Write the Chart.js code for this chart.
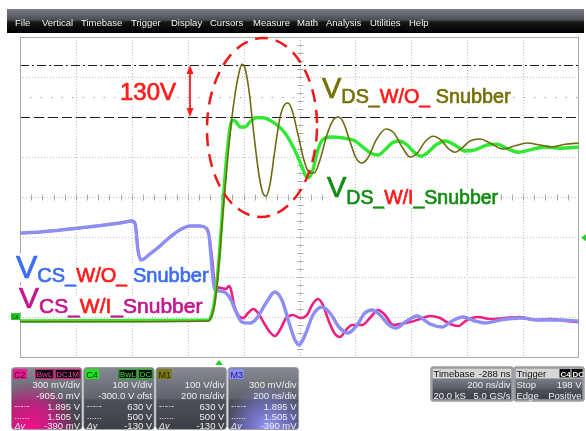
<!DOCTYPE html>
<html>
<head>
<meta charset="utf-8">
<script src="https://cdn.jsdelivr.net/npm/chart.js@4.4.1/dist/chart.umd.min.js"></script>
<style>
html, body { margin: 0; padding: 0; background: #fff; }
canvas { display: block; }
</style>
</head>
<body>
<canvas id="scope" width="586" height="431"></canvas>
<script>
// time in ns, trigger at 0 (200 ns/div, 10 div)
const timeMin = -712
const timeMax = 1288
// C4 / M1 : 100 V/div, -300 V ofst -> centre 300 V
const vdsMin = -100
const vdsMax = 700
// C2 / M3 : 300 mV/div, -905 mV -> centre 0.905 V
const vcsMin = -0.295
const vcsMax = 2.105

const cursorHigh = 630
const cursorLow = 500
const triggerLevel = 198

// M1 - VDS without snubber
const vdsWoT = [-712, -426, -39, -29, -18, -7, 4, 14, 29, 43, 57, 72, 82, 93, 107, 125, 143, 157, 168, 182, 200, 218, 236, 247, 261, 283, 304, 322, 340, 361, 386, 408, 426, 444, 469, 490, 512, 533, 562, 597, 626, 655, 684, 712, 737, 766, 795, 819, 844, 869, 898, 934, 970, 1016, 1059, 1102, 1148, 1191, 1238, 1288]
const vdsWoV = [-12, -12, -10, -2, 22, 80, 168, 262, 380, 480, 555, 612, 632, 622, 568, 455, 355, 310, 302, 330, 418, 498, 532, 535, 518, 455, 392, 362, 360, 392, 455, 492, 500, 488, 438, 398, 385, 398, 442, 470, 460, 425, 400, 412, 438, 452, 442, 422, 412, 422, 440, 445, 435, 420, 428, 435, 430, 425, 432, 435]

// C4 - VDS with snubber
const vdsWiT = [-712, -39, -29, -18, -7, 4, 14, 25, 36, 47, 61, 75, 93, 111, 132, 157, 182, 211, 236, 258, 279, 297, 311, 322, 336, 351, 369, 397, 440, 487, 519, 548, 569, 594, 619, 644, 673, 698, 723, 748, 776, 809, 844, 880, 916, 959, 994, 1034, 1070, 1113, 1166, 1220, 1288]
const vdsWiV = [-10, -8, 0, 30, 92, 180, 280, 380, 455, 492, 488, 475, 475, 488, 498, 498, 492, 478, 460, 435, 405, 375, 352, 348, 368, 412, 442, 450, 448, 440, 422, 408, 405, 418, 435, 440, 430, 412, 402, 412, 430, 440, 430, 415, 418, 430, 432, 420, 412, 418, 425, 422, 425]

// M3 - VCS without snubber
const vcsWoT = [-712, -640, -497, -354, -311, -300, -290, -279, -247, -211, -175, -140, -104, -68, -47, -36, -29, -21, -14, 4, 25, 43, 61, 82, 111, 136, 168, 200, 225, 250, 272, 286, 308, 336, 369, 397, 429, 462, 494, 522, 548, 576, 605, 633, 666, 709, 755, 798, 834, 873, 916, 952, 1006, 1077, 1148, 1220, 1288]
const vcsWoV = [0.635, 0.643, 0.673, 0.71, 0.725, 0.703, 0.508, 0.433, 0.478, 0.538, 0.605, 0.658, 0.688, 0.688, 0.673, 0.62, 0.47, 0.283, 0.208, 0.2, 0.185, 0.133, 0.043, -0.033, -0.04, -0.003, 0.11, 0.193, 0.133, -0.033, -0.168, -0.205, -0.13, 0.02, 0.08, 0.035, -0.07, -0.115, -0.055, 0.035, 0.058, 0.02, -0.048, -0.078, -0.033, 0.013, -0.048, -0.07, -0.025, 0.005, -0.025, -0.04, -0.018, -0.003, -0.018, -0.018, -0.025]

// C2 - VCS with snubber
const vcsWiT = [-712, -640, -497, -354, -311, -300, -290, -279, -247, -211, -175, -140, -104, -68, -47, -36, -25, -14, 7, 25, 36, 43, 54, 68, 86, 104, 122, 140, 161, 182, 200, 218, 240, 265, 290, 315, 333, 354, 372, 394, 415, 433, 454, 476, 512, 540, 569, 594, 623, 648, 684, 719, 755, 791, 827, 855, 887, 927, 970, 1023, 1077, 1130, 1184, 1238, 1288]
const vcsWiV = [0.635, 0.643, 0.673, 0.71, 0.725, 0.703, 0.508, 0.433, 0.478, 0.538, 0.605, 0.658, 0.688, 0.688, 0.673, 0.62, 0.448, 0.238, 0.223, 0.215, 0.238, 0.208, 0.095, 0.02, -0.003, 0.035, 0.065, 0.035, -0.04, -0.108, -0.138, -0.093, -0.003, 0.02, -0.003, 0.02, 0.095, 0.14, 0.095, -0.033, -0.123, -0.145, -0.093, -0.055, -0.055, -0.003, 0.058, 0.02, -0.055, -0.048, -0.033, -0.01, 0.013, -0.003, -0.048, -0.063, -0.018, 0.005, -0.01, -0.003, 0.005, -0.018, -0.01, -0.025, -0.033]

const menuItems = ['File', 'Vertical', 'Timebase', 'Trigger', 'Display', 'Cursors', 'Measure', 'Math', 'Analysis', 'Utilities', 'Help']
const panelTags = ['C2', 'C4', 'M1', 'M3']
const panelFlags = [['BwL', 'DC1M'], ['BwL', 'DC'], [], []]
const panelScale = ['300 mV/div', '100 V/div', '100 V/div', '300 mV/div']
const panelOffset = ['-905.0 mV', '-300.0 V ofst', '200 ns/div', '200 ns/div']
const panelCurHigh = ['1.895 V', '630 V', '630 V', '1.895 V']
const panelCurLow = ['1.505 V', '500 V', '500 V', '1.505 V']
const panelDelta = ['-390 mV', '-130 V', '-130 V', '-390 mV']
const timebaseInfo = ['Timebase', '-288 ns', '200 ns/div', '20.0 kS', '5.0 GS/s']
const triggerInfo = ['Trigger', 'Stop', '198 V', 'Edge', 'Positive']

const OLIVE = '#6f6a12'
const GREEN = '#2fe82f'
const LAV = '#8d8ef4'
const PINK = '#ee1f7f'
const RED = '#ff1c1c'
const FONT = '"Liberation Sans", Arial, sans-serif'

function pts(t, v) {
	return t.map((x, i) => ({ x: x, y: v[i] }))
}

function rrect(ctx, x, y, w, h, r) {
	ctx.beginPath()
	ctx.moveTo(x + r, y)
	ctx.lineTo(x + w - r, y)
	ctx.quadraticCurveTo(x + w, y, x + w, y + r)
	ctx.lineTo(x + w, y + h - r)
	ctx.quadraticCurveTo(x + w, y + h, x + w - r, y + h)
	ctx.lineTo(x + r, y + h)
	ctx.quadraticCurveTo(x, y + h, x, y + h - r)
	ctx.lineTo(x, y + r)
	ctx.quadraticCurveTo(x, y, x + r, y)
	ctx.closePath()
}

function subLabel(ctx, x, parts) {
	let cx = x
	parts.forEach(p => {
		ctx.font = p[1] + 'px ' + FONT
		const w = ctx.measureText(p[0]).width
		ctx.fillStyle = '#fff'
		ctx.fillRect(cx, p[3] - p[1] * 0.76, w, p[1] * 0.76 + 4)
		ctx.fillStyle = p[2]
		ctx.strokeStyle = p[2]
		ctx.lineWidth = 0.7
		ctx.fillText(p[0], cx, p[3])
		ctx.strokeText(p[0], cx, p[3])
		cx += w
	})
}

const scopeBackground = {
	id: 'scopeBackground',
	beforeDraw(chart) {
		const ctx = chart.ctx
		const a = chart.chartArea
		const xs = chart.scales.x
		const ys = chart.scales.yV
		ctx.save()
		ctx.fillStyle = '#fff'
		ctx.fillRect(0, 0, chart.width, chart.height)

		// menu bar
		const g = ctx.createLinearGradient(0, 9, 0, 33)
		g.addColorStop(0, '#7b7e87')
		g.addColorStop(0.45, '#4c4e55')
		g.addColorStop(0.55, '#161616')
		g.addColorStop(1, '#000')
		ctx.fillStyle = g
		ctx.fillRect(7, 9, 577, 24)
		ctx.fillStyle = '#f2f2f2'
		ctx.font = '9.5px ' + FONT
		ctx.textBaseline = 'alphabetic'
		const menuX = [15, 42, 81, 131, 171, 210, 253, 297, 326, 370, 409]
		menuItems.forEach((m, i) => ctx.fillText(m, menuX[i], 26))

		// grid
		ctx.strokeStyle = '#bdbdbd'
		ctx.lineWidth = 1
		ctx.setLineDash([1, 2])
		for (let i = 1; i < 10; i++) {
			const x = Math.round(xs.getPixelForValue(timeMin + i * 200)) + 0.5
			ctx.beginPath(); ctx.moveTo(x, a.top); ctx.lineTo(x, a.bottom); ctx.stroke()
		}
		for (let j = 1; j < 8; j++) {
			const y = Math.round(ys.getPixelForValue(vdsMin + j * 100)) + 0.5
			ctx.beginPath(); ctx.moveTo(a.left, y); ctx.lineTo(a.right, y); ctx.stroke()
		}
		ctx.setLineDash([])
		// centre ticks
		ctx.strokeStyle = '#a8a8a8'
		const cx = Math.round(xs.getPixelForValue(timeMin + 1000)) + 0.5
		const cy = Math.round(ys.getPixelForValue(300)) + 0.5
		ctx.beginPath()
		for (let k = 1; k < 50; k++) {
			const x = Math.round(xs.getPixelForValue(timeMin + k * 40)) + 0.5
			ctx.moveTo(x, cy - 3); ctx.lineTo(x, cy + 3)
		}
		for (let k = 1; k < 40; k++) {
			const y = Math.round(ys.getPixelForValue(vdsMin + k * 20)) + 0.5
			ctx.moveTo(cx - 3, y); ctx.lineTo(cx + 3, y)
		}
		ctx.stroke()

		// sparse dotted line
		ctx.strokeStyle = '#a0a0a0'
		ctx.setLineDash([1.5, 9])
		const ys5 = Math.round(ys.getPixelForValue(550)) + 0.5
		ctx.beginPath(); ctx.moveTo(a.left + 10, ys5); ctx.lineTo(a.right, ys5); ctx.stroke()

		// cursors
		ctx.strokeStyle = '#1e1e1e'
		ctx.setLineDash([9, 3, 2, 3])
		const yh = Math.round(ys.getPixelForValue(cursorHigh)) + 0.5
		ctx.beginPath(); ctx.moveTo(a.left, yh); ctx.lineTo(a.right, yh); ctx.stroke()
		ctx.setLineDash([10, 4])
		const yl = Math.round(ys.getPixelForValue(cursorLow)) + 0.5
		ctx.beginPath(); ctx.moveTo(a.left, yl); ctx.lineTo(a.right, yl); ctx.stroke()
		ctx.setLineDash([])

		// plot border
		ctx.strokeStyle = '#a9a9a9'
		ctx.strokeRect(a.left + 0.5, a.top + 0.5, a.right - a.left - 1, a.bottom - a.top)
		ctx.restore()
	}
}

function drawPanel(ctx, i) {
	const x = 11.5 + i * 72.2
	const y = 367.5
	const w = 70.5
	const h = 62
	ctx.save()
	rrect(ctx, x, y, w, h, 3)
	ctx.clip()
	const g = ctx.createLinearGradient(0, y, 0, y + h)
	g.addColorStop(0, '#868a93')
	g.addColorStop(0.5, '#5f626a')
	g.addColorStop(0.53, '#4d5058')
	g.addColorStop(1, '#3d3f46')
	ctx.fillStyle = g
	ctx.fillRect(x, y, w, h)
	if (i === 0) {
		const rg = ctx.createRadialGradient(x + 18, y + h, 2, x + 18, y + h, 48)
		rg.addColorStop(0, 'rgba(245,15,140,1)')
		rg.addColorStop(0.5, 'rgba(225,20,140,0.75)')
		rg.addColorStop(1, 'rgba(225,20,140,0)')
		ctx.fillStyle = rg
		ctx.fillRect(x, y, w, h)
	}
	if (i === 3) {
		const rg = ctx.createRadialGradient(x + 40, y + h, 2, x + 40, y + h, 45)
		rg.addColorStop(0, 'rgba(150,150,255,1)')
		rg.addColorStop(0.5, 'rgba(130,130,240,0.6)')
		rg.addColorStop(1, 'rgba(130,130,240,0)')
		ctx.fillStyle = rg
		ctx.fillRect(x, y, w, h)
	}
	ctx.restore()
	ctx.save()
	rrect(ctx, x, y, w, h, 3)
	ctx.strokeStyle = '#9c9fa6'
	ctx.lineWidth = 1
	ctx.stroke()

	const tagFill = ['#ea1a8e', '#22e022', '#7c7712', '#8a8cff'][i]
	const tagText = ['#50002a', '#063806', '#2a2800', '#1c1c70'][i]
	ctx.fillStyle = tagFill
	ctx.fillRect(x + 1.5, y + 1.5, 14, 10)
	ctx.font = '9px ' + FONT
	ctx.fillStyle = tagText
	ctx.fillText(panelTags[i], x + 2.5, y + 10)

	// flags at the right of the header
	let fx = x + w - 1.5
	panelFlags[i].slice().reverse().forEach(f => {
		ctx.font = '8px ' + FONT
		const fw = ctx.measureText(f).width + 3
		fx -= fw
		ctx.fillStyle = '#0a0a0a'
		ctx.fillRect(fx, y + 1.5, fw, 10)
		ctx.strokeStyle = i === 0 ? '#e0197f' : '#1fbf1f'
		ctx.strokeRect(fx + 0.5, y + 2, fw - 1, 9)
		ctx.fillStyle = i === 0 ? '#ff3aa0' : '#30e030'
		ctx.fillText(f, fx + 1.5, y + 9.5)
		fx -= 1
	})

	ctx.font = '9.5px ' + FONT
	ctx.fillStyle = '#eeeeee'
	ctx.textAlign = 'right'
	const rx = x + w - 2
	ctx.fillText(panelScale[i], rx, y + 20)
	ctx.fillText(panelOffset[i], rx, y + 31)
	ctx.fillText(panelCurHigh[i], rx, y + 42)
	ctx.fillText(panelCurLow[i], rx, y + 52)
	ctx.fillText(panelDelta[i], rx, y + 61)
	ctx.textAlign = 'left'
	ctx.font = '9px ' + FONT
	ctx.fillText('-·-·-', x + 3, y + 41)
	ctx.fillText('......', x + 3, y + 51)
	ctx.font = 'italic 9px ' + FONT
	ctx.fillText('\u0394y', x + 3, y + 61)
	ctx.restore()
}

function drawInfoBox(ctx, x, w, info, isTrigger) {
	const y = 367.5
	const h = 33
	ctx.save()
	rrect(ctx, x, y, w, h, 2)
	ctx.clip()
	const g = ctx.createLinearGradient(0, y + 11, 0, y + h)
	g.addColorStop(0, '#7a7e86')
	g.addColorStop(0.45, '#5a5d65')
	g.addColorStop(0.55, '#4a4d55')
	g.addColorStop(1, '#3e4047')
	ctx.fillStyle = g
	ctx.fillRect(x, y, w, h)
	ctx.fillStyle = '#d6d6d6'
	ctx.fillRect(x, y, w, 11)
	ctx.restore()
	ctx.save()
	rrect(ctx, x, y, w, h, 2)
	ctx.strokeStyle = '#9a9ca2'
	ctx.stroke()
	ctx.font = '9.5px ' + FONT
	ctx.fillStyle = '#111'
	ctx.fillText(info[0], x + 2, y + 9.5)
	if (isTrigger) {
		ctx.font = 'bold 8px ' + FONT
		;['C4', 'DC'].forEach((f, k) => {
			const fx = x + w - 24 + k * 12
			ctx.fillStyle = '#0a0a0a'
			ctx.fillRect(fx, y + 1.5, 11, 8.5)
			ctx.fillStyle = '#f0f0f0'
			ctx.fillText(f, fx + 1, y + 9)
		})
		ctx.font = '9.5px ' + FONT
		ctx.fillStyle = '#eee'
		ctx.fillText(info[1], x + 2, y + 20)
		ctx.fillText(info[3], x + 2, y + 31)
		ctx.textAlign = 'right'
		ctx.fillText(info[2], x + w - 2, y + 20)
		ctx.fillText(info[4], x + w - 2, y + 31)
	} else {
		ctx.textAlign = 'right'
		ctx.fillText(info[1], x + w - 2, y + 9.5)
		ctx.fillStyle = '#eee'
		ctx.fillText(info[2], x + w - 2, y + 20)
		ctx.fillText(info[4], x + w - 2, y + 31)
		ctx.textAlign = 'left'
		ctx.fillText(info[3], x + 2, y + 31)
	}
	ctx.restore()
}

const scopeOverlay = {
	id: 'scopeOverlay',
	afterDatasetsDraw(chart) {
		const ctx = chart.ctx
		const a = chart.chartArea
		const xs = chart.scales.x
		const ys = chart.scales.yV
		ctx.save()
		ctx.textBaseline = 'alphabetic'

		// labels
		subLabel(ctx, 322, [['V', 29, '#77700a', 98], ['DS_', 19.8, '#77700a', 103], ['W/O_', 19.8, RED, 103], [' Snubber', 19.8, '#77700a', 103]])
		subLabel(ctx, 327, [['V', 29, '#148c14', 197], ['DS_', 19.5, '#148c14', 204], ['W/I', 19.5, RED, 204], ['_Snubber', 19.5, '#148c14', 204]])
		subLabel(ctx, 16, [['V', 32, '#3d6df3', 278], ['CS_', 20, '#3d6df3', 282], ['W/O_', 20, RED, 282], [' Snubber', 20, '#3d6df3', 282]])
		subLabel(ctx, 19, [['V', 30, '#c3168d', 308], ['CS_', 21, '#c3168d', 313], ['W/I', 21, RED, 313], ['_Snubber', 21, '#c3168d', 313]])
		subLabel(ctx, 120, [['130V', 24, RED, 100]])

		// 130 V arrow between the cursors
		const yh = ys.getPixelForValue(cursorHigh)
		const yl = ys.getPixelForValue(cursorLow)
		const ax = 190
		ctx.strokeStyle = RED
		ctx.fillStyle = RED
		ctx.lineWidth = 1.8
		ctx.beginPath(); ctx.moveTo(ax, yh + 6); ctx.lineTo(ax, yl - 6); ctx.stroke()
		ctx.beginPath(); ctx.moveTo(ax, yh); ctx.lineTo(ax - 3.5, yh + 9); ctx.lineTo(ax + 3.5, yh + 9); ctx.closePath(); ctx.fill()
		ctx.beginPath(); ctx.moveTo(ax, yl); ctx.lineTo(ax - 3.5, yl - 9); ctx.lineTo(ax + 3.5, yl - 9); ctx.closePath(); ctx.fill()

		// dashed ellipse round the VDS overshoot
		ctx.lineWidth = 2.5
		ctx.strokeStyle = '#f01818'
		ctx.setLineDash([13, 8])
		ctx.beginPath()
		ctx.ellipse(262, 127.5, 55, 89.5, 0.02, 0, Math.PI * 2)
		ctx.stroke()
		ctx.setLineDash([])

		// markers: C4 ground, trigger level, trigger position
		const yg = ys.getPixelForValue(0)
		ctx.fillStyle = '#25c825'
		ctx.fillRect(11, yg - 4, 9, 7)
		ctx.fillStyle = '#063806'
		ctx.font = '5px ' + FONT
		ctx.fillText('C4', 12, yg + 1.5)
		const yt = ys.getPixelForValue(triggerLevel)
		ctx.fillStyle = '#25d025'
		ctx.beginPath(); ctx.moveTo(581, yt); ctx.lineTo(586, yt - 3.5); ctx.lineTo(586, yt + 3.5); ctx.closePath(); ctx.fill()
		const xt = xs.getPixelForValue(0)
		ctx.beginPath(); ctx.moveTo(xt, a.bottom + 3); ctx.lineTo(xt - 4, a.bottom + 8); ctx.lineTo(xt + 4, a.bottom + 8); ctx.closePath(); ctx.fill()

		// channel panels
		for (let i = 0; i < 4; i++) drawPanel(ctx, i)
		drawInfoBox(ctx, 431.5, 81, timebaseInfo, false)
		drawInfoBox(ctx, 514.5, 69, triggerInfo, true)
		ctx.restore()
	}
}

new Chart(document.getElementById('scope'), {
	type: 'line',
	data: {
		datasets: [
			{ label: 'M1', data: pts(vdsWoT, vdsWoV), yAxisID: 'yV', borderColor: OLIVE, borderWidth: 1.6 },
			{ label: 'C4', data: pts(vdsWiT, vdsWiV), yAxisID: 'yV', borderColor: GREEN, borderWidth: 3.4 },
			{ label: 'M3', data: pts(vcsWoT, vcsWoV), yAxisID: 'yC', borderColor: LAV, borderWidth: 3.4 },
			{ label: 'C2', data: pts(vcsWiT, vcsWiV), yAxisID: 'yC', borderColor: PINK, borderWidth: 2.6 },
		],
	},
	options: {
		responsive: false,
		devicePixelRatio: 1,
		animation: false,
		events: [],
		layout: { padding: { left: 20, right: 7, top: 37, bottom: 74 } },
		elements: {
			point: { radius: 0 },
			line: { cubicInterpolationMode: 'monotone', fill: false },
		},
		plugins: {
			legend: { display: false },
			tooltip: { enabled: false },
		},
		scales: {
			x: { type: 'linear', min: timeMin, max: timeMax, display: false },
			yV: { type: 'linear', min: vdsMin, max: vdsMax, display: false },
			yC: { type: 'linear', min: vcsMin, max: vcsMax, display: false },
		},
	},
	plugins: [scopeBackground, scopeOverlay],
})
</script>
</body>
</html>
